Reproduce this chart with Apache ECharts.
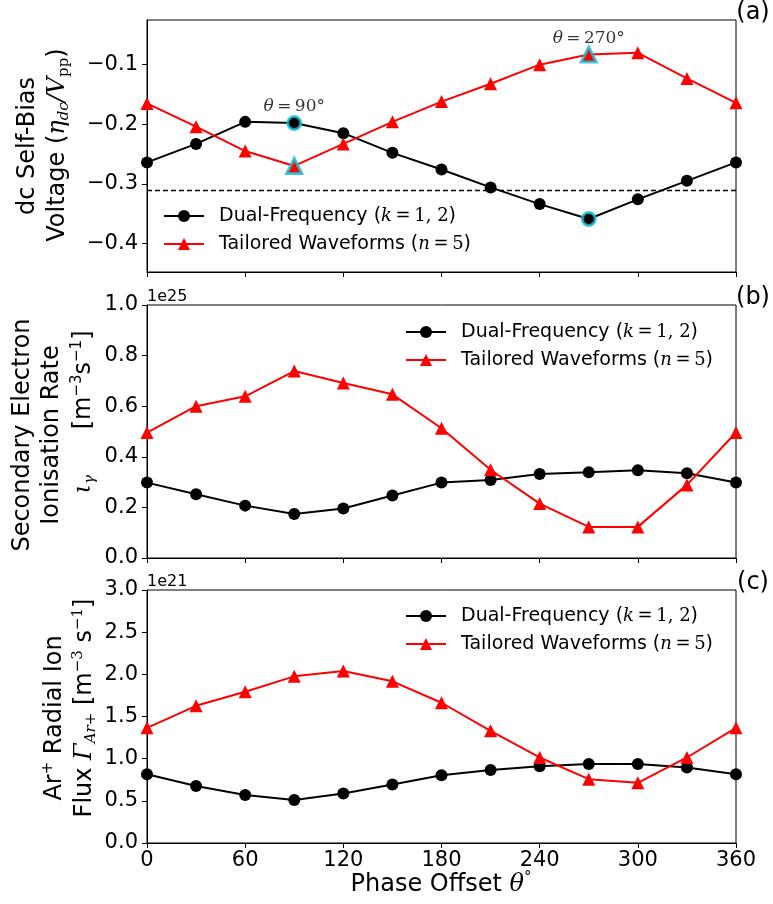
<!DOCTYPE html>
<html>
<head>
<meta charset="utf-8">
<script src="https://cdn.jsdelivr.net/npm/echarts@6/dist/echarts.min.js"></script>
<style>
  html, body { margin: 0; padding: 0; background: #fff; }
  #chart { width: 773px; height: 904px; }
</style>
</head>
<body>
<div id="chart"></div>
<script>
// phase offset (degrees)
var phase = [0, 30, 60, 90, 120, 150, 180, 210, 240, 270, 300, 330, 360];

// (a) dc self-bias, normalised by V_pp
var biasDual = [-0.264, -0.233, -0.196, -0.198, -0.215, -0.248, -0.276, -0.306, -0.334, -0.359, -0.326, -0.295, -0.264];
var biasTailored = [-0.165, -0.204, -0.245, -0.270, -0.233, -0.196, -0.162, -0.132, -0.100, -0.083, -0.080, -0.123, -0.164];
var biasRef = -0.313;
var biasTicks = [-0.4, -0.3, -0.2, -0.1];

// (b) secondary electron ionisation rate, x 1e25
var ionDual = [0.298, 0.252, 0.207, 0.174, 0.196, 0.247, 0.298, 0.308, 0.332, 0.339, 0.347, 0.335, 0.298];
var ionTailored = [0.496, 0.600, 0.639, 0.739, 0.692, 0.647, 0.513, 0.349, 0.215, 0.123, 0.123, 0.289, 0.496];

// (c) Ar+ radial ion flux, x 1e21
var fluxDual = [0.816, 0.677, 0.570, 0.511, 0.587, 0.693, 0.804, 0.867, 0.911, 0.938, 0.938, 0.895, 0.816];
var fluxTailored = [1.366, 1.627, 1.793, 1.976, 2.039, 1.917, 1.663, 1.330, 1.014, 0.757, 0.713, 1.014, 1.366];

// highlighted points theta = 90, 270
var hlIdx = [3, 9];

var CYAN = '#17becf';
var SANS = 'DejaVu Sans';
var SERIF = 'DejaVu Serif';

function pairs(ys) {
  return phase.map(function (p, i) { return [p, ys[i]]; });
}

var minus = function (v) { return String(v).replace('-', '\u2212'); };

var grids = [
  { left: 147, right: 37, top: 20, height: 252 },
  { left: 147, right: 37, top: 305, height: 253 },
  { left: 147, right: 37, top: 590, height: 253 }
].map(function (g) {
  g.show = true; g.borderColor = '#000'; g.borderWidth = 1; g.backgroundColor = '#fff';
  return g;
});

var xAxes = [0, 1, 2].map(function (i) {
  return {
    type: 'value', gridIndex: i, min: 0, max: 360, interval: 60,
    axisLine: { show: true, lineStyle: { color: '#000', width: 1 } },
    axisTick: { show: true, inside: false, length: 5, lineStyle: { color: '#000' } },
    axisLabel: { show: i === 2, color: '#000', fontSize: 21, fontFamily: SANS, margin: 7 },
    splitLine: { show: false }
  };
});

function yAxis(i, min, max, interval, fmt, custom) {
  var ax = {
    type: 'value', gridIndex: i, min: min, max: max,
    axisLine: { show: true, lineStyle: { color: '#000', width: 1 } },
    axisTick: { show: true, inside: false, length: 5, lineStyle: { color: '#000' } },
    axisLabel: { color: '#000', fontSize: 21, fontFamily: SANS, margin: 9, formatter: fmt },
    splitLine: { show: false }
  };
  if (custom) {
    ax.axisTick.customValues = custom;
    ax.axisLabel.customValues = custom;
  } else {
    ax.interval = interval;
  }
  return ax;
}

var yAxes = [
  yAxis(0, -0.448, -0.025, null, function (v) { return minus(v.toFixed(1)); }, biasTicks),
  yAxis(1, 0, 1.0, 0.2, function (v) { return v.toFixed(1); }),
  yAxis(2, 0, 3.0, 0.5, function (v) { return v.toFixed(1); })
];

function dualSeries(i, ys) {
  return {
    name: 'Dual-Frequency', type: 'line', xAxisIndex: i, yAxisIndex: i,
    data: pairs(ys), symbol: 'circle', symbolSize: 12,
    lineStyle: { color: '#000', width: 2 }, itemStyle: { color: '#000' },
    animation: false, z: 3
  };
}
function tailoredSeries(i, ys) {
  return {
    name: 'Tailored Waveforms', type: 'line', xAxisIndex: i, yAxisIndex: i,
    data: pairs(ys), symbol: 'triangle', symbolSize: 13,
    lineStyle: { color: '#ff0000', width: 2 }, itemStyle: { color: '#ff0000' },
    animation: false, z: 3
  };
}

var thetaRich = {
  i: { fontFamily: SERIF, fontStyle: 'italic', fontSize: 17, color: '#000' },
  r: { fontFamily: SERIF, fontSize: 17, color: '#000' }
};

var series = [
  dualSeries(0, biasDual), tailoredSeries(0, biasTailored),
  dualSeries(1, ionDual), tailoredSeries(1, ionTailored),
  dualSeries(2, fluxDual), tailoredSeries(2, fluxTailored),
  {
    type: 'line', xAxisIndex: 0, yAxisIndex: 0, data: [], silent: true,
    markLine: {
      silent: true, symbol: 'none', animation: false, label: { show: false },
      lineStyle: { color: '#000', type: [5, 3], width: 1.3 },
      data: [{ yAxis: biasRef }]
    }
  },
  {
    type: 'scatter', xAxisIndex: 0, yAxisIndex: 0, symbol: 'circle', symbolSize: 13,
    itemStyle: { color: '#000', borderColor: CYAN, borderWidth: 3 }, z: 5, animation: false,
    data: hlIdx.map(function (k, j) {
      return {
        value: [phase[k], biasDual[k]],
        label: {
          show: j === 0, position: 'top', distance: 0,
          formatter: '{i|θ}{r|\u2009=\u200990°}', rich: thetaRich
        }
      };
    })
  },
  {
    type: 'scatter', xAxisIndex: 0, yAxisIndex: 0, symbol: 'triangle', symbolSize: 15,
    itemStyle: { color: '#ff0000', borderColor: CYAN, borderWidth: 3 }, z: 5, animation: false,
    data: hlIdx.map(function (k, j) {
      return {
        value: [phase[k], biasTailored[k]],
        label: {
          show: j === 1, position: 'top', distance: -2,
          formatter: '{i|θ}{r|\u2009=\u2009270°}', rich: thetaRich
        }
      };
    })
  }
];

var legendRich = {
  t: { fontFamily: SANS, fontSize: 19, color: '#000' },
  m: { fontFamily: SERIF, fontStyle: 'italic', fontSize: 18, color: '#000' },
  r: { fontFamily: SERIF, fontSize: 18, color: '#000' }
};
function legendFmt(name) {
  if (name === 'Dual-Frequency') return '{t|Dual-Frequency (}{m|k}{r|\u2009=\u20091, 2}{t|)}';
  return '{t|Tailored Waveforms (}{m|n}{r|\u2009=\u20095}{t|)}';
}
function legend(left, top) {
  return {
    data: ['Dual-Frequency', 'Tailored Waveforms'], orient: 'vertical',
    left: left, top: top, padding: 0, itemWidth: 40, itemHeight: 15, itemGap: 6,
    selectedMode: false, formatter: legendFmt,
    textStyle: { fontSize: 19, fontFamily: SANS, color: '#000', lineHeight: 22, padding: [0, 0, 0, 10], rich: legendRich }
  };
}

// rotated y labels
var labRich = {
  i: { fontFamily: SERIF, fontStyle: 'italic', fontSize: 24, lineHeight: 28, verticalAlign: 'middle' },
  s: { fontFamily: SERIF, fontStyle: 'italic', fontSize: 15, lineHeight: 28, verticalAlign: 'bottom' },
  sr: { fontFamily: SERIF, fontSize: 15, lineHeight: 28, verticalAlign: 'bottom' },
  sup: { fontFamily: SANS, fontSize: 15, lineHeight: 28, verticalAlign: 'top' },
  supi: { fontFamily: SERIF, fontSize: 15, lineHeight: 28, verticalAlign: 'top' }
};
function vlabel(x, y, text) {
  return {
    type: 'text', x: x, y: y, rotation: Math.PI / 2, silent: true,
    style: {
      text: text, fill: '#000', fontFamily: SANS, fontSize: 24, lineHeight: 28,
      align: 'center', verticalAlign: 'middle', rich: labRich
    }
  };
}
function plain(x, y, text, size, align) {
  return {
    type: 'text', x: x, y: y, silent: true,
    style: { text: text, fill: '#000', fontFamily: SANS, fontSize: size, align: align || 'center', verticalAlign: 'middle', rich: labRich }
  };
}

var graphics = [
  vlabel(28, 146, 'dc Self-Bias'),
  vlabel(58, 145, 'Voltage ({i|η}{s|dc}{i|/V}{sr|pp})'),
  vlabel(23, 435, 'Secondary Electron'),
  vlabel(52, 435, 'Ionisation Rate'),
  vlabel(84, 412, '{i|ι}{s|γ}      [m{sup|−3}s{sup|−1}]'),
  vlabel(55, 718, 'Ar{sup|+} Radial Ion'),
  vlabel(85, 708, 'Flux {sr|}{i|Γ}{s|Ar+} [m{supi|−3} s{supi|−1}]'),
  plain(753, 13, '(a)', 24),
  plain(753, 298, '(b)', 24),
  plain(753, 583, '(c)', 24),
  plain(147, 297, '1e25', 16, 'left'),
  plain(147, 582, '1e21', 16, 'left'),
  plain(441, 885, 'Phase Offset {i|θ}{sup|°}', 24)
];

var chart = echarts.init(document.getElementById('chart'), null, { renderer: 'canvas' });
chart.setOption({
  animation: false,
  backgroundColor: '#fff',
  grid: grids,
  xAxis: xAxes,
  yAxis: yAxes,
  legend: [legend(163, 205), legend(405, 321), legend(405, 605)],
  series: series,
  graphic: graphics
});
</script>
</body>
</html>
